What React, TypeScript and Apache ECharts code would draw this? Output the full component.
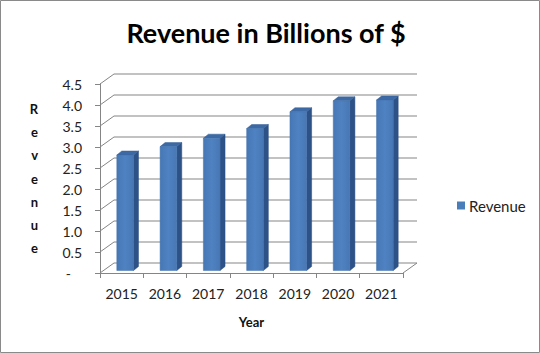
import React, { useEffect, useRef } from "react";
import * as echarts from "echarts";

const categories = ["2015", "2016", "2017", "2018", "2019", "2020", "2021"];
const revenue = [2.75, 2.95, 3.15, 3.38, 3.78, 4.04, 4.06];
const gridTicks = [0, 0.5, 1, 1.5, 2, 2.5, 3, 3.5, 4, 4.5];

const DX = 14;
const DY = -10;

export default function App() {
  const ref = useRef<HTMLDivElement>(null);
  useEffect(() => {
    if (!ref.current) return;
    const chart = echarts.init(ref.current, null, { renderer: "svg" });
    const font = "Lato";
    chart.setOption({
      animation: false,
      backgroundColor: "#ffffff",
      title: {
        text: "Revenue in Billions of $",
        left: 261,
        top: 14,
        textAlign: "center",
        textStyle: { fontFamily: font, fontWeight: "bold", fontSize: 27, color: "#000" },
      },
      legend: {
        show: true,
        left: 452,
        top: 193,
        itemWidth: 8,
        itemHeight: 8,
        icon: "rect",
        itemGap: 4,
        textStyle: { fontFamily: font, fontSize: 15, color: "#222", padding: [0, 0, 0, -1] },
        data: [{ name: "Revenue", itemStyle: { color: "#4a7ebb" } }],
      },
      graphic: [
        {
          type: "rect",
          shape: { x: 0.5, y: 0.5, width: 539, height: 352 },
          style: { fill: "none", stroke: "#8a8a8a", lineWidth: 1 },
          silent: true,
        },
      ],
      grid: { left: 100, top: 84, width: 303, height: 189 },
      xAxis: {
        type: "category",
        data: categories,
        name: "Year",
        nameLocation: "middle",
        nameGap: 42,
        nameTextStyle: { fontFamily: font, fontWeight: "bold", fontSize: 13, color: "#111" },
        axisLine: { show: true, lineStyle: { color: "#858585", width: 1 } },
        axisTick: { show: true, length: 5, lineStyle: { color: "#858585" } },
        axisLabel: { fontFamily: font, fontSize: 14, color: "#222", margin: 13 },
        splitLine: { show: false },
      },
      yAxis: {
        type: "value",
        min: 0,
        max: 4.5,
        interval: 0.5,
        name: "R\ne\nv\ne\nn\nu\ne",
        nameLocation: "middle",
        nameRotate: 0,
        nameGap: 62,
        nameTextStyle: {
          fontFamily: font,
          fontWeight: "bold",
          fontSize: 13,
          color: "#111",
          lineHeight: 23.3,
          padding: [8, 0, 0, 0],
        },
        axisLine: { show: true, lineStyle: { color: "#858585", width: 1 } },
        axisTick: { show: true, length: 5, lineStyle: { color: "#858585" } },
        axisLabel: {
          fontFamily: font,
          fontSize: 14,
          color: "#222",
          margin: 18,
          formatter: (v: number) => (v === 0 ? "{d|-}" : v.toFixed(1)),
          rich: { d: { fontFamily: font, fontSize: 14, color: "#222", padding: [0, 11, 0, 0] } },
        },
        splitLine: { show: false },
      },
      series: [
        {
          type: "custom",
          name: "walls",
          silent: true,
          z: 1,
          data: gridTicks.map((v) => [0, v]),
          renderItem: (params: any, api: any) => {
            const cs = params.coordSys;
            const v = api.value(1);
            const y = api.coord([0, v])[1];
            const x0 = cs.x;
            const x1 = cs.x + cs.width;
            const children: any[] = [
              {
                type: "polyline",
                shape: {
                  points: [
                    [x0, y],
                    [x0 + DX, y + DY],
                    [x1 + DX, y + DY],
                  ],
                },
                style: { stroke: "#858585", lineWidth: 1, fill: "none" },
              },
            ];
            if (v === 0) {
              children.push({
                type: "line",
                shape: { x1: x1, y1: y, x2: x1 + DX, y2: y + DY },
                style: { stroke: "#858585", lineWidth: 1 },
              });
            }
            return { type: "group", children };
          },
        },
        {
          type: "custom",
          name: "Revenue",
          z: 3,
          itemStyle: { color: "#4a7ebb" },
          data: revenue.map((v, i) => [i, v]),
          renderItem: (params: any, api: any) => {
            const idx = api.value(0);
            const val = api.value(1);
            const base = api.coord([idx, 0]);
            const top = api.coord([idx, val]);
            const band = api.size([1, 0])[0];
            const w = band * 0.385;
            const fx = DX * 0.25;
            const fy = DY * 0.25;
            const bx = 5;
            const by = -4;
            const xl = base[0] - w / 2 + fx;
            const xr = xl + w;
            const yt = top[1] + fy;
            const yb = base[1] + fy;
            return {
              type: "group",
              children: [
                {
                  type: "polygon",
                  shape: { points: [[xr, yt], [xr + bx, yt + by], [xr + bx, yb + by], [xr, yb]] },
                  style: { fill: "#2d5288", stroke: "#2a4c7e", lineWidth: 0.5 },
                },
                {
                  type: "polygon",
                  shape: { points: [[xl, yt], [xl + bx, yt + by], [xr + bx, yt + by], [xr, yt]] },
                  style: { fill: "#3d6aa5", stroke: "#355f96", lineWidth: 0.5 },
                },
                {
                  type: "rect",
                  shape: { x: xl, y: yt, width: w, height: yb - yt },
                  style: {
                    fill: new echarts.graphic.LinearGradient(0, 0, 1, 0, [
                      { offset: 0, color: "#4777b5" },
                      { offset: 0.5, color: "#4f82c2" },
                      { offset: 1, color: "#4877b4" },
                    ]),
                    stroke: "#4272ae",
                    lineWidth: 0.5,
                  },
                },
              ],
            };
          },
        },
      ],
    });
    return () => chart.dispose();
  }, []);
  return (
    <div
      ref={ref}
      style={{ position: "fixed", left: 0, top: 0, width: 540, height: 353 }}
    />
  );
}
